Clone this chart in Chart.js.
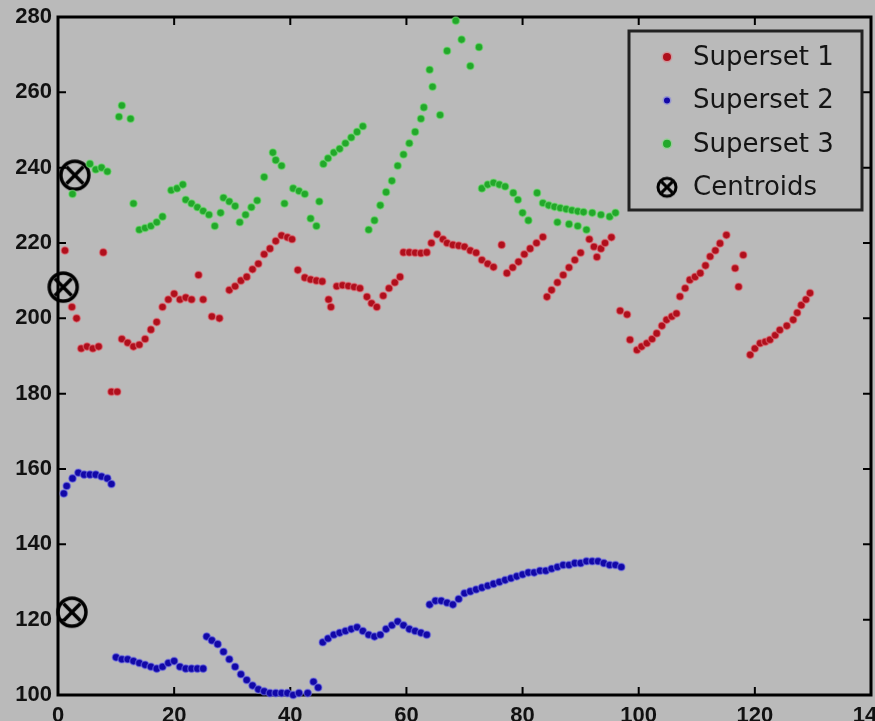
<!DOCTYPE html>
<html>
<head>
<meta charset="utf-8">
<script src="https://cdn.jsdelivr.net/npm/chart.js@4.4.0/dist/chart.umd.min.js"></script>
<style>
  html, body { margin: 0; padding: 0; background: #bababa; }
  canvas { display: block; }
</style>
</head>
<body>
<canvas id="grafico" width="875" height="721"></canvas>
<script>
// Superset 1 (vermelho)
const s1x = [1.2, 2.4, 3.2, 4, 5, 6, 7, 7.8, 9.2, 10.2,
  11, 12, 13, 14, 15, 16, 17, 18, 19, 20, 21, 22, 23, 24.2, 25, 26.5, 27.8,
  29.5, 30.5, 31.5, 32.5, 33.5, 34.5, 35.5, 36.5, 37.5, 38.5, 39.5, 40.3, 41.3, 42.5, 43.5, 44.5, 45.5,
  46.6, 47, 48, 49, 50, 51, 52, 53.2, 54, 54.9, 56, 57, 58, 58.9,
  59.5, 60.5, 61.5, 62.5, 63.5, 64.3, 65.3, 66.3, 67, 68, 69, 70, 71, 72, 73, 74, 75,
  76.4, 77.3, 78.3, 79.3, 80.3, 81.3, 82.4, 83.5, 84.2, 85, 86, 87, 88, 89, 90,
  91.5, 92.3, 92.8, 93.5, 94.2, 95.3, 96.8, 98,
  98.5, 99.7, 100.5, 101.4, 102.3, 103.1, 104, 104.8, 105.7, 106.5,
  107.1, 108, 108.8, 109.7, 110.6, 111.5, 112.3, 113.2, 114, 115.1, 116.6, 117.2, 118,
  119.2, 120, 120.9, 121.8, 122.6, 123.5, 124.3, 125.5, 126.6, 127.3, 128, 128.8, 129.5];
const s1y = [218, 203, 200, 192, 192.5, 192, 192.5, 217.5, 180.5, 180.5,
  194.5, 193.5, 192.5, 193, 194.5, 197, 199, 203, 205, 206.5, 205, 205.5, 205, 211.5, 205, 200.5, 200,
  207.5, 208.5, 210, 211, 213, 214.5, 217, 218.5, 220.5, 222, 221.5, 221, 212.8, 210.8, 210.3, 210, 209.8,
  205, 203, 208.5, 208.8, 208.6, 208.3, 208, 205.7, 204, 203, 206, 208, 209.5, 211,
  217.5, 217.5, 217.4, 217.3, 217.5, 220, 222.3, 221, 220, 219.5, 219.3, 219, 218, 217.4, 215.5, 214.5, 213.6,
  219.5, 212, 213.5, 215, 217, 218.5, 220, 221.6, 205.7, 207.5, 209.5, 211.5, 213.5, 215.5, 217.4,
  221, 219, 216.3, 218.5, 220, 221.5, 202, 201,
  194.3, 191.6, 192.5, 193.4, 194.5, 196, 198, 199.6, 200.5, 201.3,
  205.8, 208, 210.2, 211, 212, 214, 216.4, 218, 219.9, 222.1, 213.3, 208.4, 216.8,
  190.3, 192, 193.4, 193.8, 194.3, 195.5, 196.9, 198, 199.6, 201.5, 203.5, 205, 206.7];

// Superset 2 (azul)
const s2x = [1, 1.5, 2.5, 3.5, 4.5, 5.5, 6.5, 7.5, 8.5, 9.2,
  10, 11, 12, 13, 14, 15, 16, 17, 18, 19, 20, 21, 22, 23, 24, 25,
  25.6, 26.5, 27.5, 28.5, 29.5, 30.5, 31.5, 32.5, 33.5, 34.5, 35.5, 36.5, 37.5, 38.5, 39.5, 40.5, 41.5, 43, 44, 44.8,
  45.6, 46.5, 47.5, 48.5, 49.5, 50.5, 51.5, 52.5, 53.5, 54.5, 55.5, 56.5, 57.5, 58.5, 59.5, 60.5, 61.5, 62.5, 63.5,
  64, 65, 66, 67, 68, 69, 70, 71, 72, 73, 74, 75, 76, 77, 78, 79, 80, 81, 82, 83, 84, 85, 86, 87, 88, 89, 90,
  91, 92, 93, 94, 95, 96, 97];
const s2y = [153.5, 155.5, 157.5, 159, 158.5, 158.5, 158.5, 158, 157.5, 156,
  110, 109.5, 109.5, 109, 108.5, 108, 107.5, 107, 107.5, 108.5, 109, 107.5, 107, 107, 107, 107,
  115.5, 114.5, 113.5, 111.5, 109.5, 107.5, 105.5, 104, 102.5, 101.5, 101, 100.5, 100.5, 100.5, 100.5, 100, 100.5, 100.5, 103.5, 102,
  114, 115, 116, 116.5, 117, 117.5, 118, 117, 116, 115.5, 116, 117.5, 118.5, 119.5, 118.5, 117.5, 117, 116.5, 116,
  124, 125, 125, 124.5, 124, 125.5, 127, 127.5, 128, 128.5, 129, 129.5, 130, 130.5, 131, 131.5, 132, 132.5, 132.5, 133, 133, 133.5, 134, 134.5, 134.5, 135, 135,
  135.5, 135.5, 135.5, 135, 134.5, 134.5, 134];

// Superset 3 (verde)
const s3x = [2.5, 5.5, 6.5, 7.5, 8.5, 10.5, 11, 12.5,
  13, 14, 15, 16, 17, 18, 19.5, 20.5, 21.5, 22, 23, 24, 25, 26, 27, 28, 28.5, 29.5, 30.5,
  31.3, 32.3, 33.3, 34.3, 35.5, 37, 37.5, 38.5, 39, 40.5, 41.5, 42.5, 43.5, 44.5, 45,
  45.7, 46.5, 47.5, 48.5, 49.5, 50.5, 51.5, 52.5,
  53.5, 54.5, 55.5, 56.5, 57.5, 58.5, 59.5, 60.5, 61.5, 62.5, 63, 64, 64.5, 65.8, 67, 68.5, 69.5, 71, 72.5,
  73, 74, 75, 76, 77, 78.4, 79.2, 80, 81, 82.5, 83.5, 84.5, 85.5, 86.5, 87.5, 88.5, 89.5, 90.5, 92, 93.5, 95, 96,
  86, 88, 89.5, 91];
const s3y = [233, 241, 239.5, 240, 239, 253.5, 256.5, 253,
  230.5, 223.5, 224, 224.5, 225.5, 227, 234, 234.5, 235.5, 231.5, 230.5, 229.5, 228.5, 227.5, 224.5, 228, 232, 231, 229.8,
  225.5, 227.5, 229.5, 231.3, 237.5, 244, 242, 240.5, 230.5, 234.5, 233.8, 233, 226.5, 224.5, 231,
  241, 242.5, 244, 245, 246.5, 248, 249.5, 251,
  223.5, 226, 230, 233.5, 236.5, 240.5, 243.5, 246.5, 249.5, 253, 256, 266, 261.5, 254, 271, 279, 274, 267, 272,
  234.5, 235.5, 236, 235.5, 235, 233.3, 231.5, 228, 226, 233.3, 230.6, 230, 229.6, 229.3, 229, 228.7, 228.4, 228.2, 228, 227.5, 227, 228,
  225.5, 225, 224.5, 223.5];

// Centroides
const cx = [2.9, 0.9, 2.4];
const cy = [238, 208.3, 122];

// Marcas dos eixos
const xTicks = [0, 20, 40, 60, 80, 100, 120, 140];
const yTicks = [100, 120, 140, 160, 180, 200, 220, 240, 260, 280];

const toPts = (xs, ys) => xs.map((x, i) => ({ x: x, y: ys[i] }));

// Marcador do centroide (circulo com X)
function criarIcone(d, r, lw) {
    const c = document.createElement('canvas');
    c.width = d; c.height = d;
    const g = c.getContext('2d');
    const m = d / 2, k = r * 0.6;
    g.strokeStyle = '#000';
    g.lineWidth = lw;
    g.beginPath();
    g.arc(m, m, r, 0, Math.PI * 2);
    g.stroke();
    g.beginPath();
    g.moveTo(m - k, m - k); g.lineTo(m + k, m + k);
    g.moveTo(m + k, m - k); g.lineTo(m - k, m + k);
    g.stroke();
    return c;
}
const iconeCentroide = criarIcone(36, 14, 3.5);
const iconeLegenda = criarIcone(24, 9, 3);

// Moldura e marcas para dentro, estilo MATLAB
const molduraPlugin = {
    id: 'moldura',
    beforeDatasetsDraw(chart) {
        const { ctx, chartArea: a, scales } = chart;
        ctx.save();
        ctx.strokeStyle = '#000';
        ctx.lineWidth = 2;
        const t = 8;
        scales.x.ticks.forEach(tk => {
            const px = scales.x.getPixelForValue(tk.value);
            ctx.beginPath();
            ctx.moveTo(px, a.bottom); ctx.lineTo(px, a.bottom - t);
            ctx.moveTo(px, a.top); ctx.lineTo(px, a.top + t);
            ctx.stroke();
        });
        scales.y.ticks.forEach(tk => {
            const py = scales.y.getPixelForValue(tk.value);
            ctx.beginPath();
            ctx.moveTo(a.left, py); ctx.lineTo(a.left + t, py);
            ctx.moveTo(a.right, py); ctx.lineTo(a.right - t, py);
            ctx.stroke();
        });
        ctx.lineWidth = 3;
        ctx.strokeRect(a.left, a.top, a.right - a.left, a.bottom - a.top);
        ctx.restore();
    }
};

const raioLegenda = [4, 3, 4];

const legendaPlugin = {
    id: 'legendaCaixa',
    afterDraw(chart) {
        const { ctx, chartArea: a } = chart;
        const bx = a.right - 242, by = a.top + 14, bw = 233, bh = 179;
        ctx.save();
        ctx.lineWidth = 3;
        ctx.strokeStyle = '#222';
        ctx.strokeRect(bx, by, bw, bh);
        ctx.font = '26px "DejaVu Sans"';
        ctx.textBaseline = 'middle';
        chart.data.datasets.forEach((ds, i) => {
            const yy = by + 26 + i * 43.4;
            const mx = bx + 38;
            if (i === 3) {
                ctx.drawImage(iconeLegenda, mx - 12, yy - 12);
            } else {
                ctx.beginPath();
                ctx.arc(mx, yy, raioLegenda[i] + 1.5, 0, Math.PI * 2);
                ctx.fillStyle = ds.pointBorderColor;
                ctx.fill();
                ctx.beginPath();
                ctx.arc(mx, yy, raioLegenda[i], 0, Math.PI * 2);
                ctx.fillStyle = ds.backgroundColor;
                ctx.fill();
            }
            ctx.fillStyle = '#151515';
            ctx.fillText(ds.label, bx + 64, yy + 1);
        });
        ctx.restore();
    }
};

Chart.defaults.font.family = '"Liberation Sans", Arial, sans-serif';

const ctx = document.getElementById('grafico').getContext('2d');
const myChart = new Chart(ctx, {
    type: 'scatter',
    data: {
        datasets: [{
            label: 'Superset 1',
            data: toPts(s1x, s1y),
            backgroundColor: '#b00f1c',
            pointBorderColor: 'rgba(225, 120, 130, 0.55)',
            pointBorderWidth: 1.5,
            pointRadius: 3.8,
            clip: false
        }, {
            label: 'Superset 2',
            data: toPts(s2x, s2y),
            backgroundColor: '#1208a8',
            pointBorderColor: 'rgba(120, 120, 230, 0.55)',
            pointBorderWidth: 1.5,
            pointRadius: 3.8,
            clip: false
        }, {
            label: 'Superset 3',
            data: toPts(s3x, s3y),
            backgroundColor: '#22a82a',
            pointBorderColor: 'rgba(120, 220, 120, 0.55)',
            pointBorderWidth: 1.5,
            pointRadius: 3.8,
            clip: false
        }, {
            label: 'Centroids',
            data: toPts(cx, cy),
            pointStyle: iconeCentroide,
            backgroundColor: '#000',
            pointBorderWidth: 0,
            pointRadius: 16,
            clip: false
        }]
    },
    options: {
        responsive: false,
        animation: false,
        devicePixelRatio: 1,
        layout: { autoPadding: false, padding: { top: 17, right: 4, left: 0, bottom: 0 } },
        plugins: {
            legend: { display: false },
            tooltip: { enabled: false }
        },
        scales: {
            x: {
                type: 'linear',
                min: 0,
                max: 140,
                afterBuildTicks: s => { s.ticks = xTicks.map(v => ({ value: v })); },
                afterFit: s => { s.height = 26; s.paddingLeft = 0; s.paddingRight = 0; },
                grid: { display: false, drawTicks: false },
                border: { display: false },
                ticks: { padding: 8, color: '#111', font: { size: 22, weight: 'bold' } }
            },
            y: {
                type: 'linear',
                min: 100,
                max: 280,
                afterBuildTicks: s => { s.ticks = yTicks.map(v => ({ value: v })); },
                afterFit: s => { s.width = 58; s.paddingTop = 0; s.paddingBottom = 0; },
                grid: { display: false, drawTicks: false },
                border: { display: false },
                ticks: { padding: 6, color: '#111', font: { size: 22, weight: 'bold' } }
            }
        }
    },
    plugins: [molduraPlugin, legendaPlugin]
});
</script>
</body>
</html>
